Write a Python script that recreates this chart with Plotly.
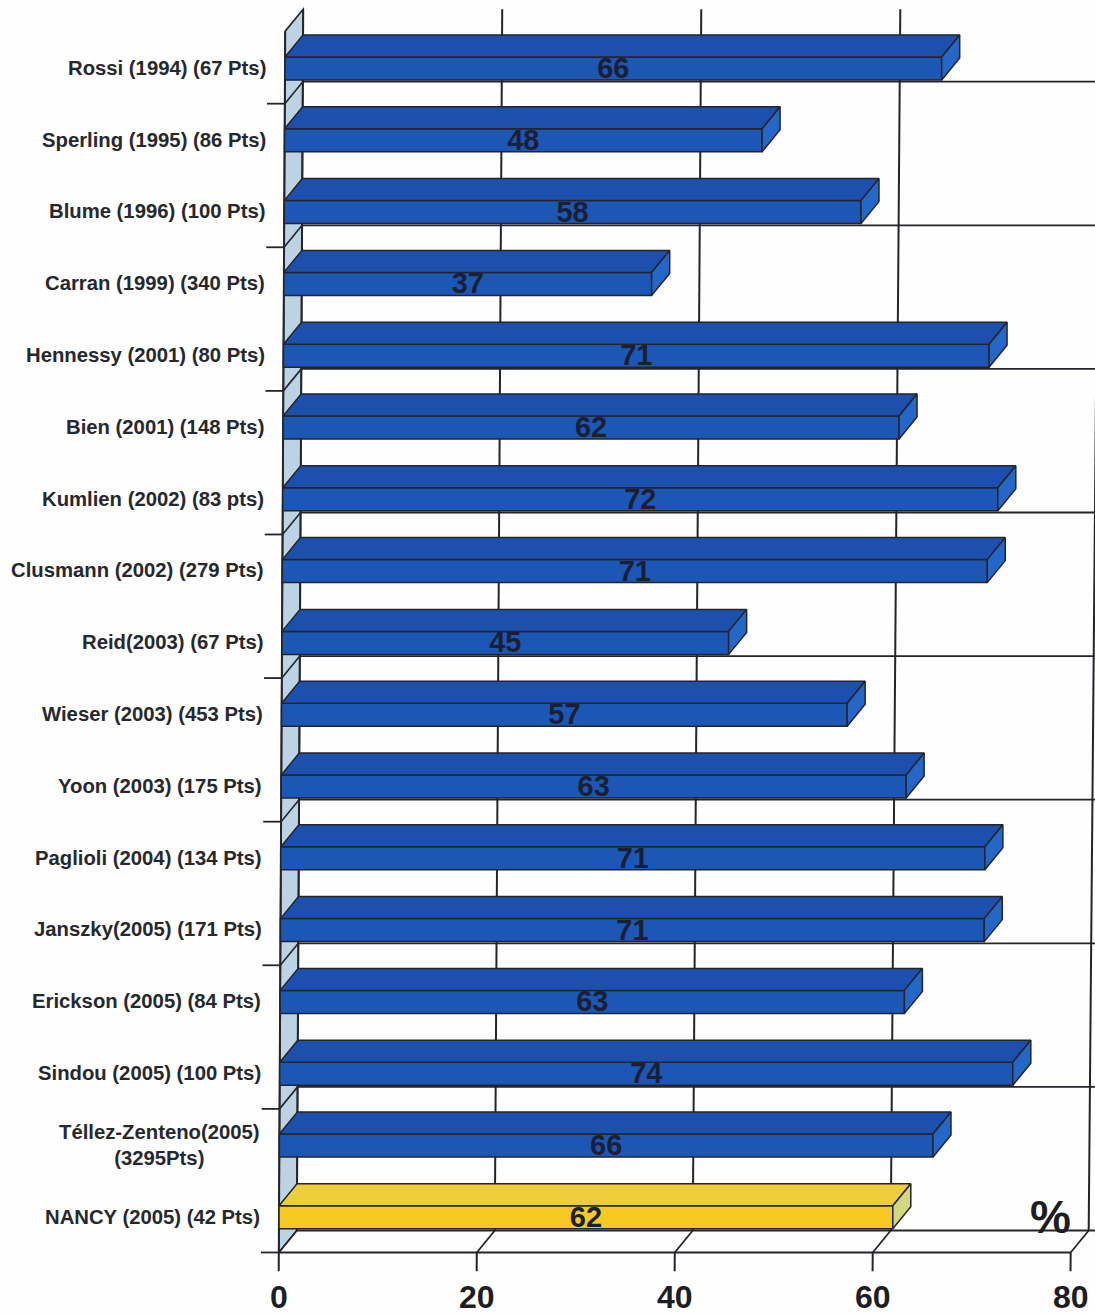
import plotly.graph_objects as go

categories = ["Rossi (1994) (67 Pts)", "Sperling (1995) (86 Pts)", "Blume (1996) (100 Pts)",
              "Carran (1999) (340 Pts)", "Hennessy (2001) (80 Pts)", "Bien (2001) (148 Pts)",
              "Kumlien (2002) (83 pts)", "Clusmann (2002) (279 Pts)", "Reid(2003) (67 Pts)",
              "Wieser (2003) (453 Pts)", "Yoon (2003) (175 Pts)", "Paglioli (2004) (134 Pts)",
              "Janszky(2005) (171 Pts)", "Erickson (2005) (84 Pts)", "Sindou (2005) (100 Pts)",
              "Téllez-Zenteno(2005)<br>(3295Pts)", "NANCY (2005) (42 Pts)"]
values = [66, 48, 58, 37, 71, 62, 72, 71, 45, 57, 63, 71, 71, 63, 74, 66, 62]
x_ticks = [0, 20, 40, 60, 80]
highlight = "NANCY (2005) (42 Pts)"

W, H = 1095, 1315
PX_X0, PX_PER_UNIT = 278.0, 9.925
PX_ROW0, PX_PER_ROW = 68.5, 71.8
DEPTH_X, DEPTH_Y = 18.0, 22.0
BAR_H = 23.0 / PX_PER_ROW
DY = DEPTH_Y / PX_PER_ROW
TOP_R, FLOOR_R, TICK_R = -0.52, 16.49, 16.75
INK = "#23252b"
BLUE = dict(top="#1c50ac", front="#1c57b6", side="#2467c8")
GOLD = dict(top="#ecce3c", front="#f6c822", side="#d3d87e")
WALL = "#bdd3e3"


def X(v, r, depth=0):
    px = 285 - 0.375 * r + v * (9.95 - 0.05 * r / 16) + depth * DEPTH_X
    return (px - PX_X0) / PX_PER_UNIT


rows = list(range(len(categories)))
shapes = []


def seg(v0, r0, d0, v1, r1, d1, width=1.8):
    shapes.append(dict(type="line", layer="below", xref="x", yref="y",
                       x0=X(v0, r0, d0), y0=r0 - d0 * DY, x1=X(v1, r1, d1), y1=r1 - d1 * DY,
                       line=dict(color=INK, width=width)))


# side wall
wall = [(X(0, TOP_R, 0), TOP_R), (X(0, FLOOR_R, 0), FLOOR_R),
        (X(0, FLOOR_R, 1), FLOOR_R - DY), (X(0, TOP_R, 1), TOP_R - DY)]
shapes.append(dict(type="path", layer="below", xref="x", yref="y",
                   path="M " + " L ".join(f"{a},{b}" for a, b in wall) + " Z",
                   fillcolor=WALL, line=dict(color=INK, width=1.6)))
seg(0, TOP_R, 0, 0, TICK_R, 0, 2)
seg(0, TOP_R, 1, 0, FLOOR_R, 1, 2)

# back grid, floor and ticks
for v in x_ticks[1:]:
    seg(v, TOP_R, 1, v, FLOOR_R, 1, 2)
    seg(v, FLOOR_R, 0, v, FLOOR_R, 1, 1.8)
    seg(v, FLOOR_R, 0, v, TICK_R, 0, 2)
r = FLOOR_R - 16
while r <= FLOOR_R:
    seg(0, r, 0, 0, r, 1, 1.6)
    seg(0, r, 1, 82, r, 1, 1.8)
    seg(-1.8, r, 0, 0, r, 0, 1.8)
    r += 2
seg(0, FLOOR_R, 0, 80, FLOOR_R, 0, 1.8)

fig = go.Figure()
fig.add_trace(go.Bar(
    y=rows, x=[X(v, i) - X(0, i) for i, v in zip(rows, values)],
    base=[X(0, i) for i in rows], width=BAR_H, orientation="h",
    marker=dict(color=[(GOLD if categories[i] == highlight else BLUE)["front"] for i in rows],
                line=dict(color=INK, width=1.5)),
    hoverinfo="skip", showlegend=False))

for pal, idx in ((BLUE, [i for i in rows if categories[i] != highlight]),
                 (GOLD, [i for i in rows if categories[i] == highlight])):
    tx, ty, sx, sy = [], [], [], []
    for i in idx:
        v = values[i]
        t, b = i - BAR_H / 2, i + BAR_H / 2
        tx += [X(0, i), X(v, i), X(v, i, 1), X(0, i, 1), X(0, i), None]
        ty += [t, t, t - DY, t - DY, t, None]
        sx += [X(v, i), X(v, i, 1), X(v, i, 1), X(v, i), X(v, i), None]
        sy += [t, t - DY, b - DY, b, t, None]
    for xs, ys, col in ((tx, ty, pal["top"]), (sx, sy, pal["side"])):
        fig.add_trace(go.Scatter(x=xs, y=ys, mode="lines", fill="toself", fillcolor=col,
                                 line=dict(color=INK, width=1.5), hoverinfo="skip", showlegend=False))

# value labels in the bar centres
fig.add_trace(go.Scatter(
    x=[(X(0, i) + X(v, i)) / 2 for i, v in zip(rows, values)], y=[i + 0.03 for i in rows],
    mode="text", text=[str(v) for v in values], textposition="middle center",
    textfont=dict(family="Liberation Sans", size=29, color="#1a1f33", weight="bold"),
    hoverinfo="skip", showlegend=False))

ann = []
for i, c in zip(rows, categories):
    ann.append(dict(x=X(0, i) - 17 / PX_PER_UNIT, y=i - 0.01, xref="x", yref="y", text=f"<b>{c}</b>",
                    showarrow=False, xanchor="right", yanchor="middle", align="center",
                    font=dict(family="Liberation Sans", size=20.3, color="#26282e")))
for v in x_ticks:
    ann.append(dict(x=X(v, TICK_R), y=17.11, xref="x", yref="y", text=f"<b>{v}</b>",
                    showarrow=False, font=dict(family="Liberation Sans", size=32, color="#1c1e24")))
ann.append(dict(x=77.85, y=16.0, xref="x", yref="y", text="<b>%</b>", showarrow=False,
                font=dict(family="Liberation Sans", size=46, color="#1c1e24")))

fig.update_layout(
    width=W, height=H, margin=dict(l=0, r=0, t=0, b=0), autosize=False,
    plot_bgcolor="#fdfefd", paper_bgcolor="#fdfefd", shapes=shapes, annotations=ann,
    xaxis=dict(range=[-PX_X0 / PX_PER_UNIT, (W - PX_X0) / PX_PER_UNIT], visible=False, fixedrange=True),
    yaxis=dict(range=[(H - PX_ROW0) / PX_PER_ROW, -PX_ROW0 / PX_PER_ROW], visible=False, fixedrange=True),
)
fig.write_html("out.html", config=dict(displayModeBar=False),
               post_script="document.body.style.margin='0';document.documentElement.style.overflow='hidden';")
